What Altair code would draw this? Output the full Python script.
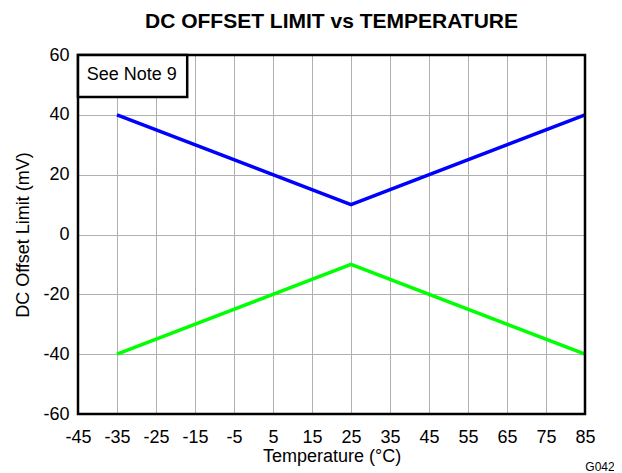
import altair as alt
import pandas as pd

temps = [-35, 25, 85]
upper = [40, 10, 40]
lower = [-40, -10, -40]

x_ticks = [-45, -35, -25, -15, -5, 5, 15, 25, 35, 45, 55, 65, 75, 85]
y_ticks = [-60, -40, -20, 0, 20, 40, 60]

df = pd.DataFrame({
    "t": temps * 2,
    "v": upper + lower,
    "s": ["upper"] * 3 + ["lower"] * 3,
})

FONT = "Liberation Sans"

xscale = alt.Scale(domain=[-45, 85], nice=False, zero=False)
yscale = alt.Scale(domain=[-60, 60], nice=False, zero=False)

common = dict(grid=True, ticks=False, domain=False, labelFontSize=18, titleFontSize=18,
              titleFont=FONT, labelFont=FONT, titleFontWeight="normal",
              labelColor="black", titleColor="black", labelOverlap=False,
              labelFlush=False, labelExpr="'' + datum.value",
              gridColor="#b0b0b0", gridWidth=1, gridOpacity=1)

xaxis = alt.Axis(values=x_ticks, tickCount=len(x_ticks), title="Temperature (°C)",
                 labelPadding=14, titlePadding=1, **common)
yaxis = alt.Axis(values=y_ticks, tickCount=len(y_ticks), title="DC Offset Limit (mV)",
                 labelPadding=9, titlePadding=10, **common)

lines = alt.Chart(df).mark_line(strokeWidth=3.5).encode(
    x=alt.X("t:Q", scale=xscale, axis=xaxis),
    y=alt.Y("v:Q", scale=yscale, axis=yaxis),
    color=alt.Color("s:N", scale=alt.Scale(domain=["upper", "lower"], range=["#0000ff", "#00ff00"]), legend=None),
    detail="s:N",
)

frame_df = pd.DataFrame({"x": [-45], "x2": [85], "y": [-60], "y2": [60]})
frame = alt.Chart(frame_df).mark_rect(fill=None, fillOpacity=0, stroke="black", strokeWidth=2.5).encode(
    x=alt.X("x:Q", scale=xscale), x2="x2:Q",
    y=alt.Y("y:Q", scale=yscale), y2="y2:Q",
)

note_box = pd.DataFrame({"x": [-45], "x2": [-17], "y": [46], "y2": [60]})
box = alt.Chart(note_box).mark_rect(fill="white", stroke="black", strokeWidth=2.5).encode(
    x=alt.X("x:Q", scale=xscale), x2="x2:Q",
    y=alt.Y("y:Q", scale=yscale), y2="y2:Q",
)
note_txt = pd.DataFrame({"x": [-31.2], "y": [53.2], "label": ["See Note 9"]})
note = alt.Chart(note_txt).mark_text(font=FONT, fontSize=18, color="black").encode(
    x=alt.X("x:Q", scale=xscale), y=alt.Y("y:Q", scale=yscale), text="label:N",
)

code = alt.Chart(pd.DataFrame({"label": ["G042"]})).mark_text(
    font=FONT, fontSize=12, color="black", align="center"
).encode(x=alt.value(522), y=alt.value(412), text="label:N")

chart = alt.layer(lines, frame, box, note, code).properties(
    width=507, height=359,
    title=alt.TitleParams("DC OFFSET LIMIT vs TEMPERATURE", font=FONT, fontSize=21,
                          fontWeight="bold", color="black", anchor="middle", offset=14),
    autosize=alt.AutoSizeParams(type="none"),
    padding={"left": 70, "top": 47, "right": 29, "bottom": 62},
).configure_view(strokeWidth=0).configure(background="white")

chart.save("out.html", embed_options={"renderer": "svg", "actions": False})
